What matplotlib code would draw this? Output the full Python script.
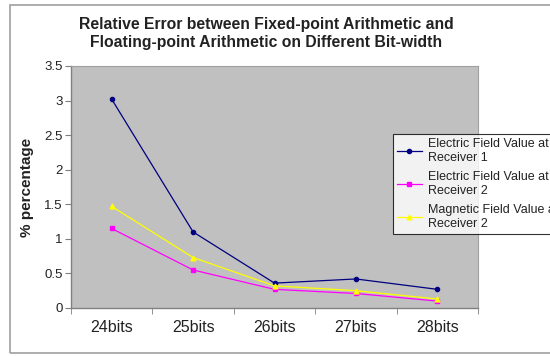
import matplotlib
matplotlib.use("Agg")
import matplotlib.pyplot as plt
from matplotlib.patches import Rectangle

categories = ["24bits", "25bits", "26bits", "27bits", "28bits"]
e_field_r1 = [3.02, 1.10, 0.36, 0.42, 0.27]
e_field_r2 = [1.15, 0.55, 0.27, 0.21, 0.10]
m_field_r2 = [1.47, 0.73, 0.32, 0.25, 0.13]
labels = ["Electric Field Value at\nReceiver 1",
          "Electric Field Value at\nReceiver 2",
          "Magnetic Field Value at\nReceiver 2"]
yticks = [0, 0.5, 1, 1.5, 2, 2.5, 3, 3.5]
ytick_labels = ["0", "0.5", "1", "1.5", "2", "2.5", "3", "3.5"]

plt.rcParams['font.family'] = ['Liberation Sans', 'DejaVu Sans']

W, H = 550, 356
fig = plt.figure(figsize=(W / 100, H / 100), dpi=100)
fig.patch.set_facecolor("white")

# outer chart-area border
fig.patches.append(Rectangle((10 / W, 1 - 353 / H), 600 / W, (353 - 5) / H,
                             transform=fig.transFigure, fill=False,
                             edgecolor="#a0a0a0", linewidth=1.2))

left, right, top, bottom = 71, 478, 66, 308
ax = fig.add_axes([left / W, 1 - bottom / H, (right - left) / W, (bottom - top) / H])
ax.set_facecolor("#c0c0c0")

x = list(range(len(categories)))
ax.plot(x, e_field_r1, color="#000080", marker="o", markersize=3, linewidth=0.9,
        label=labels[0])
ax.plot(x, e_field_r2, color="#ff00ff", marker="s", markersize=3, linewidth=0.9,
        label=labels[1])
ax.plot(x, m_field_r2, color="#ffff00", marker="^", markersize=3.5, linewidth=0.9,
        label=labels[2])

ax.set_xlim(-0.5, len(categories) - 0.5)
ax.set_ylim(0, 3.5)
ax.set_yticks(yticks)
ax.set_yticklabels(ytick_labels, fontsize=9.5, color="#222222")
ax.set_xticks(x)
ax.set_xticklabels(categories, fontsize=11.5, color="#222222")
ax.tick_params(axis="x", length=0, pad=9)
ax.set_xticks([i + 0.5 for i in range(-1, len(categories))], minor=True)
ax.tick_params(axis="x", which="minor", length=4, direction="out", color="#808080")
ax.tick_params(axis="y", length=4, direction="out", color="#808080", pad=2)

for s in ["top", "right"]:
    ax.spines[s].set_color("#a0a0a0")
    ax.spines[s].set_linewidth(0.8)
for s in ["left", "bottom"]:
    ax.spines[s].set_color("#808080")
    ax.spines[s].set_linewidth(1)

ax.set_ylabel("% percentage", fontsize=11, fontweight="bold", labelpad=7,
              color="#222222")

cx = 266 / W
fig.text(cx, 1 - 24 / H,
         "Relative Error between Fixed-point Arithmetic and",
         ha="center", va="center", fontsize=11.3, fontweight="bold", color="#222222")
fig.text(cx, 1 - 42 / H,
         "Floating-point Arithmetic on Different Bit-width",
         ha="center", va="center", fontsize=11.3, fontweight="bold", color="#222222")

leg = fig.legend(loc="upper left", bbox_to_anchor=(393 / W, 1 - 134 / H),
                 bbox_transform=fig.transFigure, fontsize=9, frameon=True,
                 fancybox=False, edgecolor="black", handlelength=2.0,
                 handletextpad=0.5, labelspacing=0.6, borderpad=0.3,
                 borderaxespad=0)
leg.get_frame().set_linewidth(0.8)
for t in leg.get_texts():
    t.set_linespacing(1.2)
    t.set_color("#222222")

fig.savefig("out.png", dpi=100)
